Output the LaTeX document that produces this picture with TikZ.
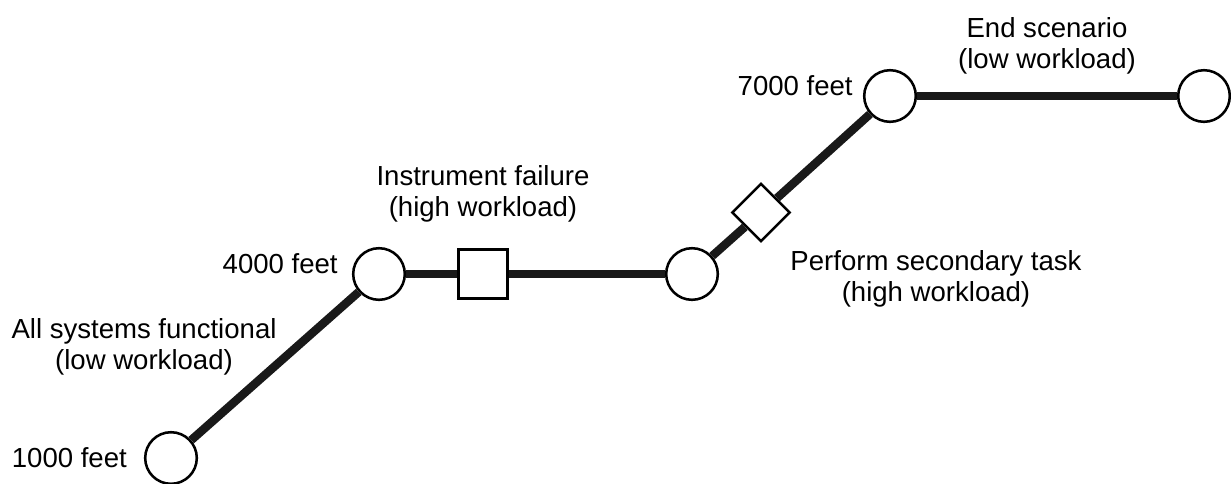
\documentclass[tikz,border=0pt]{standalone}
\usepackage{fontspec}
\setmainfont{Liberation Sans}
\usetikzlibrary{shapes.geometric, positioning}
\tikzset{
  waypt/.style={circle, draw=black, line width=1.8pt, fill=white,
    minimum size=1.29cm, inner sep=0pt},
  eventsq/.style={rectangle, draw=black, line width=1.8pt, fill=white,
    minimum size=1.23cm, inner sep=0pt},
  eventdia/.style={diamond, draw=black, line width=1.8pt, fill=white,
    minimum width=1.46cm, minimum height=1.46cm, inner sep=0pt},
  leg/.style={line width=6pt, color=black!90},
  lbl/.style={inner sep=0pt, align=center,
    font=\fontsize{19.6}{22.3}\selectfont}
}

\begin{document}
\begin{tikzpicture}[x=0.025cm, y=-0.025cm]
\useasboundingbox (0,0) rectangle (1231,483);

% waypoints along the flight
\node (ft1)  [waypt]    at (171,458)   {};
\node (ft4)  [waypt]    at (379,274)   {};
\node (fail) [eventsq]  at (483,274)   {};
\node (mid)  [waypt]    at (692,274)   {};
\node (task) [eventdia] at (761,212.5) {};
\node (ft7)  [waypt]    at (890,96)    {};
\node (stop) [waypt]    at (1204,96)   {};

% altitudes
\node (alt1) [lbl, left=0.42cm of ft1]              {1000 feet};
\node (alt4) [lbl, left=0.35cm of ft4, yshift=0.27cm] {4000 feet};
\node (alt7) [lbl, left=0.25cm of ft7, yshift=0.27cm] {7000 feet};

% phases
\node (sysok)    [lbl, anchor=north] at (144,318)
      {All systems functional\\(low workload)};
\node (instfail) [lbl, anchor=north] at (483,165)
      {Instrument failure\\(high workload)};
\node (sectask)  [lbl, anchor=north] at (936,250)
      {Perform secondary task\\(high workload)};
\node (endscn)   [lbl, anchor=north] at (1047,17)
      {End scenario\\(low workload)};

\draw[leg] (ft1)  -- (ft4);
\draw[leg] (ft4)  -- (fail);
\draw[leg] (fail) -- (mid);
\draw[leg] (mid)  -- (task);
\draw[leg] (task) -- (ft7);
\draw[leg] (ft7)  -- (stop);
\end{tikzpicture}
\end{document}
